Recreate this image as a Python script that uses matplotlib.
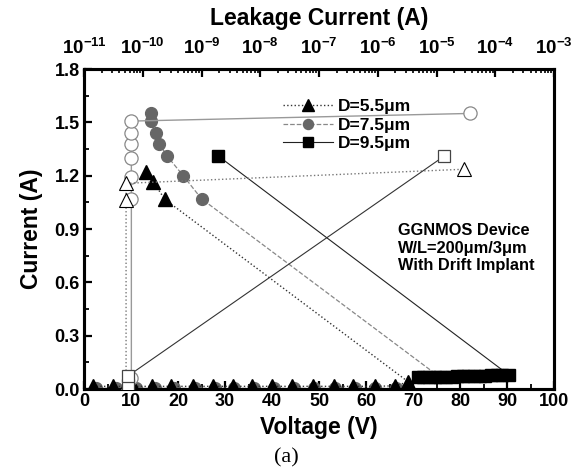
import matplotlib
matplotlib.use('Agg')
import matplotlib.pyplot as plt
from matplotlib.ticker import MultipleLocator, FixedLocator, FixedFormatter, LogLocator, NullFormatter

plt.rcParams['font.family'] = ['Liberation Sans', 'DejaVu Sans']
plt.rcParams['font.weight'] = 'bold'
plt.rcParams['mathtext.fontset'] = 'custom'
plt.rcParams['mathtext.rm'] = 'Liberation Sans:bold'
plt.rcParams['mathtext.bf'] = 'Liberation Sans:bold'
plt.rcParams['mathtext.default'] = 'rm'

# TLP I-V, D=5.5um (filled triangles)
V_55 = [1.9, 6.2, 10.5, 14.4, 18.6, 23.2, 27.4, 31.7, 35.7, 39.9, 44.2, 48.8,
        53.2, 57.3, 61.9, 66.2, 69.0, 17.2, 14.7, 13.2]
I_55 = [0.015, 0.015, 0.015, 0.015, 0.015, 0.015, 0.015, 0.015, 0.015, 0.015,
        0.015, 0.015, 0.015, 0.015, 0.015, 0.018, 0.04, 1.067, 1.166, 1.222]
# TLP I-V, D=7.5um (filled circles)
V_75 = [2.5, 6.8, 11.0, 15.0, 19.2, 23.6, 27.8, 32.0, 36.2, 40.4, 44.6, 49.0,
        53.4, 57.6, 62.0, 66.4, 71.8, 75.6, 25.0, 21.1, 17.7, 16.0, 15.3, 14.2, 14.2]
I_75 = [0.004, 0.004, 0.004, 0.004, 0.004, 0.004, 0.004, 0.004, 0.004, 0.004,
        0.004, 0.004, 0.004, 0.004, 0.004, 0.004, 0.069, 0.069, 1.07, 1.20, 1.31,
        1.38, 1.44, 1.507, 1.55]
# TLP I-V, D=9.5um (filled squares)
V_95 = [71.0, 72.2, 73.4, 74.6, 75.8, 77.0, 78.2, 79.4, 80.6, 81.8, 83.0, 84.2,
        85.4, 86.6, 87.8, 89.0, 90.4, 28.6]
I_95 = [0.066, 0.067, 0.068, 0.068, 0.069, 0.070, 0.070, 0.071, 0.072, 0.072,
        0.073, 0.074, 0.075, 0.076, 0.077, 0.078, 0.079, 1.31]

# leakage after each pulse (open symbols, top axis)
LEAK_55 = [5.2e-11, 5.2e-11, 5.2e-11, 2.9e-5]
LI_55 = [0.02, 1.063, 1.157, 1.236]
LEAK_75 = [6.4e-11, 6.4e-11, 6.4e-11, 6.4e-11, 6.4e-11, 6.4e-11, 6.4e-11, 3.7e-5]
LI_75 = [0.06, 1.07, 1.19, 1.30, 1.376, 1.44, 1.507, 1.55]
LEAK_95 = [5.6e-11, 5.6e-11, 1.35e-5]
LI_95 = [0.022, 0.073, 1.31]

LABELS = ['D=5.5\u03bcm', 'D=7.5\u03bcm', 'D=9.5\u03bcm']
NOTE = ['GGNMOS Device', 'W/L=200\u03bcm/3\u03bcm', 'With Drift Implant']
TOP_TICKS = [1e-11, 1e-10, 1e-9, 1e-8, 1e-7, 1e-6, 1e-5, 1e-4, 1e-3]
TOP_LABELS = ['$10^{-11}$', '$10^{-10}$', '$10^{-9}$', '$10^{-8}$', '$10^{-7}$',
              '$10^{-6}$', '$10^{-5}$', '$10^{-4}$', '$10^{-3}$']

GREY = '#666666'

fig = plt.figure(figsize=(5.72, 4.70), dpi=100)
ax = fig.add_axes([84/572, 81/470, 470/572, 320/470])
ax2 = ax.twiny()

# leakage curves (open symbols)
ax2.plot(LEAK_75, LI_75, '-', color='#999999', lw=1.0, marker='o', ms=9.5,
         mfc='white', mec='#888888', mew=0.9, zorder=3)
ax2.plot(LEAK_55, LI_55, ':', color='#777777', lw=1.0, marker='^', ms=10,
         mfc='white', mec='black', mew=0.8, zorder=3)
ax2.plot(LEAK_95, LI_95, '-', color='#333333', lw=0.8, marker='s', ms=8.5,
         mfc='white', mec='#444444', mew=0.9, zorder=3)

# TLP curves
l75, = ax.plot(V_75, I_75, '--', color='#888888', lw=0.9, marker='o', ms=8.5,
               mfc=GREY, mec=GREY, label=LABELS[1], zorder=3)
l55, = ax.plot(V_55, I_55, ':', color='#333333', lw=1.0, marker='^', ms=10,
               mfc='black', mec='black', label=LABELS[0], zorder=4)
l95, = ax.plot(V_95, I_95, '-', color='#222222', lw=0.8, marker='s', ms=8,
               mfc='black', mec='black', label=LABELS[2], zorder=4)

ax.set_xlim(0, 100)
ax.set_ylim(0, 1.8)
ax.xaxis.set_major_locator(MultipleLocator(10))
ax.xaxis.set_minor_locator(MultipleLocator(5))
ax.yaxis.set_major_locator(MultipleLocator(0.3))
ax.yaxis.set_minor_locator(MultipleLocator(0.15))
ax.yaxis.set_major_formatter(plt.FuncFormatter(lambda v, p: f'{v:.1f}'))
ax.tick_params(which='major', direction='in', length=6, width=1.6, labelsize=13,
               top=False, right=False, pad=3)
ax.tick_params(which='minor', direction='in', length=3.5, width=1.3, top=False, right=False)

ax2.set_xscale('log')
ax2.set_xlim(1e-11, 1e-3)
ax2.xaxis.set_major_locator(FixedLocator(TOP_TICKS))
ax2.xaxis.set_major_formatter(FixedFormatter(TOP_LABELS))
ax2.xaxis.set_minor_locator(LogLocator(base=10, subs=range(2, 10), numticks=20))
ax2.xaxis.set_minor_formatter(NullFormatter())
ax2.tick_params(which='major', direction='in', length=6, width=1.6, labelsize=13.5, pad=8)
ax2.tick_params(which='minor', direction='in', length=3, width=1.2)

for a in (ax, ax2):
    for s in a.spines.values():
        s.set_linewidth(2.2)

ax.set_xlabel('Voltage (V)', fontsize=16.5, fontweight='bold', labelpad=4)
ax.set_ylabel('Current (A)', fontsize=16.5, fontweight='bold', labelpad=8)
ax2.set_xlabel('Leakage Current (A)', fontsize=16.5, fontweight='bold', labelpad=9)

leg = ax.legend(handles=[l55, l75, l95], loc='upper left', bbox_to_anchor=(0.39, 0.955),
                frameon=False, fontsize=12.5, handlelength=2.9, handletextpad=0.25,
                labelspacing=0.2, markerscale=0.85)

ax.text(0.669, 0.44, '\n'.join(NOTE), transform=ax.transAxes, fontsize=11.8,
        fontweight='bold', va='center', ha='left', linespacing=1.2)

fig.text(0.5, 1 - 458/470, '(a)', ha='center', va='center', fontsize=16,
         fontweight='normal', family=['Liberation Serif', 'DejaVu Serif'])

fig.savefig('out.png', dpi=100)
